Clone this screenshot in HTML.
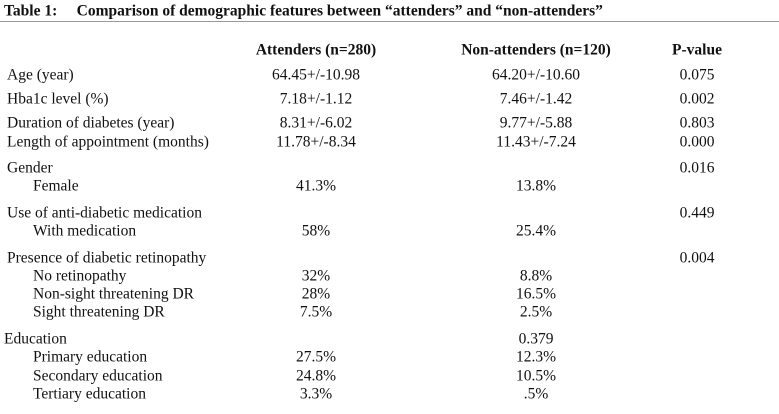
<!DOCTYPE html>
<html><head><meta charset="utf-8"><style>
html,body{margin:0;padding:0;background:#fff;}
#c{position:relative;width:779px;height:414px;overflow:hidden;font-family:"Liberation Serif",serif;font-size:15.5px;color:#111;}
.t{position:absolute;white-space:nowrap;line-height:1;transform:translateY(-50%);}
.m{transform:translate(-50%,-50%);}
.b{font-weight:bold;}
#rule{position:absolute;left:0;top:21px;width:779px;height:1px;background:#999;}
</style></head><body><div id="c">
<div class="t b" style="left:4px;top:11px">Table 1:&nbsp;&nbsp;&nbsp;&nbsp;&nbsp;Comparison of demographic features between “attenders” and “non-attenders”</div>
<div id="rule"></div>
<div class="t b m" style="left:316px;top:50px">Attenders (n=280)</div>
<div class="t b m" style="left:536px;top:50px">Non-attenders (n=120)</div>
<div class="t b m" style="left:697px;top:50px">P-value</div>

<div class="t" style="left:7px;top:75px">Age (year)</div>
<div class="t m" style="left:316px;top:75px">64.45+/-10.98</div>
<div class="t m" style="left:536px;top:75px">64.20+/-10.60</div>
<div class="t m" style="left:697px;top:75px">0.075</div>

<div class="t" style="left:7px;top:99px">Hba1c level (%)</div>
<div class="t m" style="left:316px;top:99px">7.18+/-1.12</div>
<div class="t m" style="left:536px;top:99px">7.46+/-1.42</div>
<div class="t m" style="left:697px;top:99px">0.002</div>

<div class="t" style="left:7px;top:123px">Duration of diabetes (year)</div>
<div class="t m" style="left:316px;top:123px">8.31+/-6.02</div>
<div class="t m" style="left:536px;top:123px">9.77+/-5.88</div>
<div class="t m" style="left:697px;top:123px">0.803</div>

<div class="t" style="left:7px;top:142px">Length of appointment (months)</div>
<div class="t m" style="left:316px;top:142px">11.78+/-8.34</div>
<div class="t m" style="left:536px;top:142px">11.43+/-7.24</div>
<div class="t m" style="left:697px;top:142px">0.000</div>

<div class="t" style="left:7px;top:168px">Gender</div>
<div class="t m" style="left:697px;top:168px">0.016</div>
<div class="t" style="left:33px;top:186px">Female</div>
<div class="t m" style="left:316px;top:186px">41.3%</div>
<div class="t m" style="left:536px;top:186px">13.8%</div>

<div class="t" style="left:7px;top:213px">Use of anti-diabetic medication</div>
<div class="t m" style="left:697px;top:213px">0.449</div>
<div class="t" style="left:33px;top:231px">With medication</div>
<div class="t m" style="left:316px;top:231px">58%</div>
<div class="t m" style="left:536px;top:231px">25.4%</div>

<div class="t" style="left:7px;top:258px">Presence of diabetic retinopathy</div>
<div class="t m" style="left:697px;top:258px">0.004</div>
<div class="t" style="left:33px;top:276px">No retinopathy</div>
<div class="t m" style="left:316px;top:276px">32%</div>
<div class="t m" style="left:536px;top:276px">8.8%</div>
<div class="t" style="left:33px;top:294px">Non-sight threatening DR</div>
<div class="t m" style="left:316px;top:294px">28%</div>
<div class="t m" style="left:536px;top:294px">16.5%</div>
<div class="t" style="left:33px;top:312px">Sight threatening DR</div>
<div class="t m" style="left:316px;top:312px">7.5%</div>
<div class="t m" style="left:536px;top:312px">2.5%</div>

<div class="t" style="left:4px;top:339px">Education</div>
<div class="t m" style="left:536px;top:339px">0.379</div>
<div class="t" style="left:33px;top:357px">Primary education</div>
<div class="t m" style="left:316px;top:357px">27.5%</div>
<div class="t m" style="left:536px;top:357px">12.3%</div>
<div class="t" style="left:33px;top:376px">Secondary education</div>
<div class="t m" style="left:316px;top:376px">24.8%</div>
<div class="t m" style="left:536px;top:376px">10.5%</div>
<div class="t" style="left:33px;top:394px">Tertiary education</div>
<div class="t m" style="left:316px;top:394px">3.3%</div>
<div class="t m" style="left:536px;top:394px">.5%</div>
</div></body></html>
